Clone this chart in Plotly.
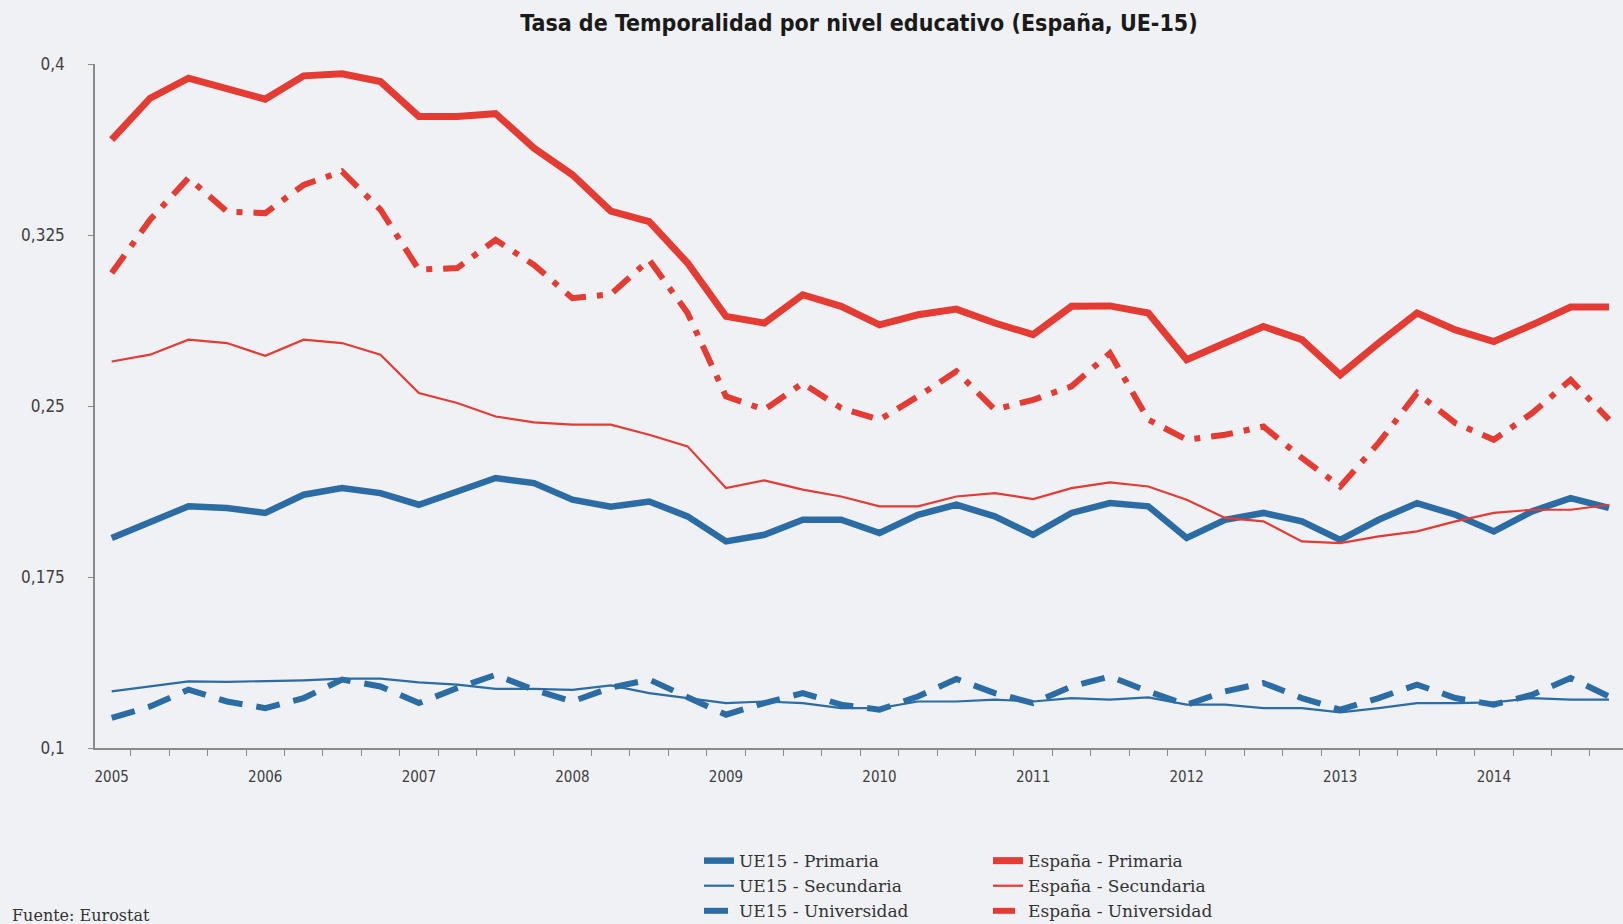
import plotly.graph_objects as go

# trimestres 2005T1 .. 2014T4
anios = list(range(2005, 2015))
periodos = [f"{a}T{t}" for a in anios for t in range(1, 5)]

ue15_primaria = [0.1921, 0.1987, 0.2060, 0.2053, 0.2031, 0.2111, 0.2140, 0.2118, 0.2067, 0.2125,
                 0.2184, 0.2162, 0.2089, 0.2058, 0.2081, 0.2016, 0.1906, 0.1935, 0.2001, 0.2001,
                 0.1943, 0.2023, 0.2067, 0.2016, 0.1935, 0.2031, 0.2074, 0.2060, 0.1921, 0.2001,
                 0.2031, 0.1994, 0.1913, 0.2001, 0.2074, 0.2023, 0.1950, 0.2038, 0.2096, 0.2053]
ue15_secundaria = [0.1248, 0.1270, 0.1292, 0.1290, 0.1292, 0.1297, 0.1304, 0.1304, 0.1288, 0.1278,
                   0.1259, 0.1259, 0.1255, 0.1275, 0.1241, 0.1219, 0.1197, 0.1204, 0.1197, 0.1175,
                   0.1175, 0.1204, 0.1204, 0.1212, 0.1204, 0.1219, 0.1212, 0.1222, 0.1190, 0.1190,
                   0.1175, 0.1175, 0.1156, 0.1175, 0.1197, 0.1197, 0.1200, 0.1219, 0.1212, 0.1212]
ue15_universidad = [0.1132, 0.1182, 0.1256, 0.1204, 0.1175, 0.1219, 0.1300, 0.1270, 0.1197, 0.1263,
                    0.1321, 0.1255, 0.1204, 0.1265, 0.1300, 0.1226, 0.1146, 0.1197, 0.1241, 0.1190,
                    0.1168, 0.1226, 0.1303, 0.1241, 0.1197, 0.1270, 0.1314, 0.1248, 0.1190, 0.1248,
                    0.1285, 0.1219, 0.1168, 0.1219, 0.1278, 0.1219, 0.1190, 0.1234, 0.1307, 0.1226]
esp_primaria = [0.3668, 0.3850, 0.3938, 0.3890, 0.3846, 0.3948, 0.3957, 0.3923, 0.3770, 0.3770,
                0.3782, 0.3631, 0.3514, 0.3355, 0.3309, 0.3127, 0.2893, 0.2864, 0.2988, 0.2937,
                0.2856, 0.2900, 0.2925, 0.2864, 0.2813, 0.2937, 0.2939, 0.2908, 0.2703, 0.2776,
                0.2849, 0.2791, 0.2637, 0.2776, 0.2908, 0.2834, 0.2783, 0.2856, 0.2934, 0.2934]
esp_secundaria = [0.2695, 0.2725, 0.2791, 0.2776, 0.2720, 0.2791, 0.2776, 0.2725, 0.2557, 0.2513,
                  0.2454, 0.2428, 0.2418, 0.2418, 0.2374, 0.2323, 0.2140, 0.2174, 0.2133, 0.2103,
                  0.2060, 0.2060, 0.2103, 0.2118, 0.2092, 0.2140, 0.2165, 0.2147, 0.2089, 0.2009,
                  0.1994, 0.1906, 0.1899, 0.1928, 0.1950, 0.1994, 0.2031, 0.2045, 0.2045, 0.2067]
esp_universidad = [0.3083, 0.3317, 0.3500, 0.3353, 0.3346, 0.3470, 0.3529, 0.3361, 0.3098, 0.3105,
                   0.3229, 0.3119, 0.2973, 0.2990, 0.3141, 0.2908, 0.2542, 0.2484, 0.2600, 0.2491,
                   0.2440, 0.2542, 0.2652, 0.2484, 0.2527, 0.2586, 0.2732, 0.2440, 0.2352, 0.2374,
                   0.2410, 0.2272, 0.2147, 0.2338, 0.2557, 0.2425, 0.2352, 0.2469, 0.2615, 0.2440]

y_ticks = [0.1, 0.175, 0.25, 0.325, 0.4]
y_ticktext = ["0,1", "0,175", "0,25", "0,325", "0,4"]

AZUL = "#2c6ca4"
ROJO = "#e43b33"
FONDO = "#eff1f4"
NARROW = "Liberation Sans Narrow, DejaVu Sans Condensed, Arial Narrow, sans-serif"
SERIF = "DejaVu Serif, Liberation Serif, serif"

x = list(range(len(periodos)))

series = [
    # nombre, datos, color, ancho, trazo, leyenda
    ("UE15 - Primaria", ue15_primaria, AZUL, 6.5, "solid", "legend"),
    ("UE15 - Secundaria", ue15_secundaria, AZUL, 2.2, "solid", "legend"),
    ("UE15 - Universidad", ue15_universidad, AZUL, 6, "24px,14px", "legend"),
    ("España - Primaria", esp_primaria, ROJO, 7, "solid", "legend2"),
    ("España - Secundaria", esp_secundaria, ROJO, 2.2, "solid", "legend2"),
    ("España - Universidad", esp_universidad, ROJO, 6, "22px,11px,6px,11px", "legend2"),
]

fig = go.Figure()
for nombre, datos, color, ancho, trazo, leg in series:
    fig.add_trace(go.Scatter(
        x=x, y=datos, mode="lines", name=nombre,
        customdata=periodos, hovertemplate="%{customdata}: %{y}<extra>" + nombre + "</extra>",
        line=dict(color=color, width=ancho, dash=trazo),
        legend=leg,
    ))

fig.update_layout(
    width=1623, height=924,
    paper_bgcolor=FONDO, plot_bgcolor=FONDO,
    margin=dict(l=95, r=0, t=64, b=176, autoexpand=False),
    title=dict(text="Tasa de Temporalidad por nivel educativo (España, UE-15)",
               x=0.5, xref="paper", xanchor="center", y=0.975, yanchor="middle",
               font=dict(family=NARROW, size=23, color="#1a1a1a", weight=700)),
    xaxis=dict(range=[-0.435, 39.365],
               tickmode="array", tickvals=x[::4], ticktext=[str(a) for a in anios],
               ticks="", ticklabelstandoff=14,
               minor=dict(tick0=0.5, dtick=1, ticks="outside", ticklen=6,
                          tickwidth=1, tickcolor="#8a8a8a"),
               showline=True, linecolor="#8a8a8a", linewidth=1.5,
               showgrid=False, zeroline=False,
               tickfont=dict(family=NARROW, size=15, color="#404040")),
    yaxis=dict(range=[0.1, 0.4],
               tickmode="array", tickvals=y_ticks, ticktext=y_ticktext,
               ticks="outside", ticklen=5, tickwidth=1, tickcolor="#8a8a8a",
               ticklabelstandoff=20,
               showline=True, linecolor="#8a8a8a", linewidth=1.5,
               showgrid=False, zeroline=False,
               tickfont=dict(family=NARROW, size=17, color="#404040")),
    legend=dict(x=(699 - 95) / 1528, xanchor="left", y=-0.139, yanchor="top",
                orientation="v", bgcolor="rgba(0,0,0,0)", itemwidth=30,
                font=dict(family=SERIF, size=17, color="#333333")),
    legend2=dict(x=(988 - 95) / 1528, xanchor="left", y=-0.139, yanchor="top",
                 orientation="v", bgcolor="rgba(0,0,0,0)", itemwidth=30,
                 font=dict(family=SERIF, size=17, color="#333333")),
    showlegend=True,
    annotations=[dict(text="Fuente: Eurostat", xref="paper", yref="paper",
                      x=(10 - 95) / 1528, y=-0.245, xanchor="left", yanchor="middle",
                      showarrow=False, font=dict(family=SERIF, size=16, color="#333333"))],
)

fig.write_html("out.html", config={"displayModeBar": False},
               post_script="document.body.style.margin='0';")
